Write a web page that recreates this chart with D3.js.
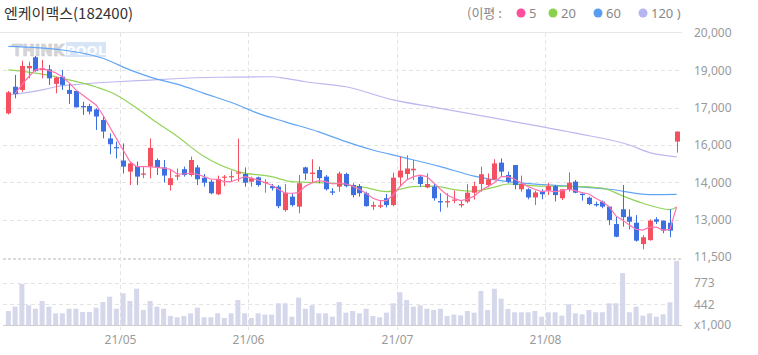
<!DOCTYPE html>
<html><head><meta charset="utf-8">
<script src="https://cdn.jsdelivr.net/npm/d3@7"></script>
<style>body{margin:0;background:#fff;}svg{display:block;}</style>
</head><body>
<script>
const title = "엔케이맥스(182400)";
const dates = ["04/08","04/09","04/12","04/13","04/14","04/15","04/16","04/19","04/20","04/21","04/22","04/23","04/26","04/27","04/28","04/29","04/30",
"05/03","05/04","05/06","05/07","05/10","05/11","05/12","05/13","05/14","05/17","05/18","05/20","05/21","05/24","05/25","05/26","05/27","05/28","05/31",
"06/01","06/02","06/03","06/04","06/07","06/08","06/09","06/10","06/11","06/14","06/15","06/16","06/17","06/18","06/21","06/22","06/23","06/24","06/25","06/28","06/29","06/30",
"07/01","07/02","07/05","07/06","07/07","07/08","07/09","07/12","07/13","07/14","07/15","07/16","07/19","07/20","07/21","07/22","07/23","07/26","07/27","07/28","07/29","07/30",
"08/02","08/03","08/04","08/05","08/06","08/09","08/10","08/11","08/12","08/13","08/17","08/18","08/19","08/20","08/23","08/24","08/25","08/26","08/27","08/30"];
const openP = [16950,17960,17840,18660,19080,18600,18620,18070,18340,17840,17800,17230,17230,17100,16700,16000,15670,15160,14740,14950,14620,14910,15180,14900,14230,
14550,14830,14610,14900,14510,14360,13880,14510,14540,14670,14650,14360,14520,14310,14190,14170,13280,13790,13410,14900,14650,14800,14550,13990,14170,
14650,14230,14190,13920,13410,13410,13730,13470,14520,14650,14790,14550,14140,14170,13620,13570,13640,13460,13600,13940,14270,14230,14450,15080,14610,
14990,14070,14070,13760,13980,14020,14190,13730,14070,14360,13900,13750,13510,13600,13410,12750,13310,13030,12800,11990,12140,12930,12880,12800,15880];
const highP = [17800,18410,18950,18910,19130,18980,18790,18340,18600,18090,17800,17390,17310,17140,16850,16190,15880,15810,15120,15120,14910,16000,15240,15180,14800,
14860,14930,15310,14990,14650,14420,14590,14610,14780,15990,14900,14550,14550,14450,14270,14230,14270,13920,14610,14930,15210,14930,14610,14110,14740,
14700,14300,14270,13980,13600,13640,13890,14700,15310,15360,15180,14610,14670,14270,13920,13920,14020,13660,14270,14360,14930,14670,15210,15240,14740,
14990,14590,14110,14020,14070,14320,14230,14070,14710,14420,13920,13790,13600,13640,13410,13030,14230,13310,13090,12330,12930,13010,12880,13310,16260];
const lowP = [16910,17520,17770,18280,18530,18280,18030,17710,17840,17310,17180,16890,16910,16320,16000,15400,15240,14670,14230,14230,14490,14490,14610,14330,14020,
14420,14550,14550,14230,14170,13880,13850,14190,14360,14360,14170,14170,14170,13940,14020,13350,13220,13410,13160,14420,14300,14300,14020,13850,13980,
14140,13760,13790,13410,13280,13350,13380,13430,14170,14420,14420,14170,14110,13640,13220,13380,13540,13380,13540,13680,13980,14140,14420,14550,14300,
14070,13980,13690,13470,13690,13850,13610,13660,13980,13920,13640,13470,13410,13350,12710,12250,12650,12550,12080,11790,12120,12750,12400,12250,15460];
const closeP = [17750,17690,18750,18750,18560,18660,18280,18310,18030,17690,17180,17180,17020,16830,16260,15780,15640,14930,15050,14550,14670,15640,14900,14590,14490,
14600,14610,15180,14450,14320,13920,14460,14550,14570,14710,14320,14490,14230,14350,14110,13430,13940,13470,14300,14670,14700,14490,14070,13940,14670,
14190,13850,13920,13430,13470,13460,13470,14510,14780,14860,14850,14270,14270,13730,13570,13620,13680,13510,13940,14190,14640,14450,15050,14740,14360,
14230,14270,13760,13950,13880,14190,13850,14070,14320,13940,13850,13510,13460,13410,12900,12270,13010,12840,12120,12250,12880,12840,12500,12500,16260];
const volume = [342,408,758,430,377,496,408,306,306,377,377,327,327,393,480,562,377,614,496,685,357,496,408,377,265,
245,265,306,393,245,245,306,234,306,511,306,234,306,286,286,460,460,254,547,377,430,306,306,254,480,
316,342,306,377,265,245,316,460,630,511,408,430,377,357,377,265,286,276,342,316,650,357,685,531,373,
322,322,322,342,254,322,322,270,445,306,291,357,322,322,460,460,925,322,408,270,306,254,291,476,1114];
const ma5 = [null,17710,18030,18340,18600,18660,18570,18490,18340,18110,17840,17650,17460,17270,16890,16440,16000,15560,15120,14930,14930,14930,14900,14870,14830,
14650,14650,14680,14640,14550,14450,14450,14360,14360,14450,14550,14490,14420,14320,14230,14070,13920,13920,13940,14190,14320,14400,14360,14270,14300,
14270,14190,14070,13920,13730,13640,13640,13850,14170,14420,14550,14610,14550,14320,14070,13850,13730,13640,13690,13810,14020,14170,14320,14550,14550,
14450,14320,14170,14070,13980,14020,13980,14020,14070,14020,13940,13890,13730,13600,13410,13060,12900,12710,12550,12520,12630,12630,12520,12550,13400];
const ma20 = [[0,18600],[5,18440],[9,18220],[13,17950],[16,17650],[19,17150],[22,16600],[25,16080],[29,15310],[34,14740],[39,14550],[42,14360],[46,14320],[50,14250],[53,14130],[56,13980],[60,14170],[63,14190],[66,14060],[69,14000],[72,14150],[74,14270],[79,14190],[84,14180],[88,14110],[91,13820],[94,13540],[98,13300],[99,13400]];
const ma60 = [[0,19490],[8,19355],[14,19040],[18,18600],[22,18250],[25,18060],[29,17710],[34,17270],[37,16950],[41,16630],[46,16250],[50,15880],[54,15560],[58,15310],[64,14930],[69,14570],[74,14360],[84,14170],[89,14070],[95,13870],[99,13880]];
const ma120 = [[0,17650],[5,17840],[7,17960],[11,18065],[16,18150],[21,18215],[24,18255],[31,18320],[39,18340],[41,18280],[44,18150],[50,17960],[57,17460],[64,17140],[75,16630],[84,16200],[92,15750],[95,15460],[99,15300]];
const priceTickLabels = ["20,000","19,000","17,000","16,000","14,000","13,000","11,500"];
const priceMin = 11500, priceMax = 20000;
const volTicks = [773, 442];
const volUnitLabel = "x1,000";
const legendTitle = "(이평 :";
const legendLabels = ["5","20","60","120 )"];

const W = 758, H = 355;
const svg = d3.select("body").append("svg").attr("width", W).attr("height", H);
const FONT = "'Noto Sans', 'Noto Sans CJK KR', sans-serif";
const KFONT = "'Noto Sans CJK KR', 'Noto Sans', sans-serif";

const x = d3.scalePoint().domain(d3.range(dates.length)).range([5, 680]).padding(0.5);
const step = x.step();
const y = d3.scaleLinear().domain([priceMin, priceMax]).range([257, 33]);
const yv = d3.scaleLinear().domain([126, 1142]).range([325, 259]);

// title
svg.append("text").attr("x", 4).attr("y", 19).attr("font-family", KFONT).attr("font-size", 15)
  .attr("fill", "#333").text(title);

// legend
const legColors = ["#ff4f9c", "#8bd14d", "#5a9df0", "#b4b5f1"];
const legX = [521, 553, 598, 643];
svg.append("text").attr("x", 467).attr("y", 18).attr("font-family", KFONT).attr("font-size", 13)
  .attr("fill", "#888").text(legendTitle);
legendLabels.forEach((l, k) => {
  svg.append("circle").attr("cx", legX[k]).attr("cy", 13).attr("r", 4.5).attr("fill", legColors[k]);
  svg.append("text").attr("x", legX[k] + 8).attr("y", 18).attr("font-family", FONT).attr("font-size", 13)
    .attr("fill", "#888").text(l);
});

// top border
svg.append("line").attr("x1", 0).attr("x2", 682).attr("y1", 32.5).attr("y2", 32.5).attr("stroke", "#e6e6e6");

// price gridlines
const gridVals = d3.range(priceTickLabels.length).map(k => priceMax - k * (priceMax - priceMin) / (priceTickLabels.length - 1));
gridVals.forEach((v, k) => {
  if (k > 0 && k < gridVals.length - 1) {
    svg.append("line").attr("x1", 3).attr("x2", 682).attr("y1", Math.round(y(v)) + 0.5).attr("y2", Math.round(y(v)) + 0.5)
      .attr("stroke", "#e4e4e4").attr("stroke-dasharray", "4,3");
  }
  svg.append("text").attr("x", 694).attr("y", y(v)).attr("dy", "0.35em").attr("font-family", FONT)
    .attr("font-size", 12).attr("fill", "#9a9a9a").text(priceTickLabels[k]);
});
// separator
svg.append("line").attr("x1", 3).attr("x2", 682).attr("y1", 259).attr("y2", 259)
  .attr("stroke", "#b8b8b8").attr("stroke-dasharray", "3,2");
// volume gridlines
volTicks.forEach(v => {
  svg.append("line").attr("x1", 3).attr("x2", 682).attr("y1", Math.round(yv(v)) + 0.5).attr("y2", Math.round(yv(v)) + 0.5)
    .attr("stroke", "#e4e4e4").attr("stroke-dasharray", "4,3");
  svg.append("text").attr("x", 694).attr("y", yv(v)).attr("dy", "0.35em").attr("font-family", FONT)
    .attr("font-size", 12).attr("fill", "#9a9a9a").text(d3.format(",")(v));
});
svg.append("text").attr("x", 694).attr("y", 325).attr("dy", "0.35em").attr("font-family", FONT)
  .attr("font-size", 12).attr("fill", "#9a9a9a").text(volUnitLabel);

// month gridlines & labels
dates.forEach((d, i) => {
  if (i > 0 && d.slice(0, 2) !== dates[i - 1].slice(0, 2)) {
    const gx = Math.round(x(i) - step / 2) + 0.5;
    svg.append("line").attr("x1", gx).attr("x2", gx).attr("y1", 33).attr("y2", 330)
      .attr("stroke", "#e4e4e4").attr("stroke-dasharray", "4,3");
    svg.append("text").attr("x", gx).attr("y", 340).attr("dy", "0.35em").attr("text-anchor", "middle")
      .attr("font-family", FONT).attr("font-size", 12).attr("fill", "#9a9a9a").text("21/" + d.slice(0, 2));
  }
});

// watermark
const wm = svg.append("g").attr("opacity", 0.55);
wm.append("text").attr("x", 12).attr("y", 56).attr("font-family", "'DejaVu Sans', sans-serif").attr("font-weight", "bold")
  .attr("font-size", 15).attr("fill", "#b5b5b5").attr("stroke", "#999").attr("stroke-width", 0.5).text("THINK");
wm.append("rect").attr("x", 66).attr("y", 42).attr("width", 40).attr("height", 15).attr("fill", "#b8d0f0");
wm.append("text").attr("x", 86).attr("y", 55).attr("text-anchor", "middle").attr("font-family", "'DejaVu Sans', sans-serif")
  .attr("font-weight", "bold").attr("font-size", 13).attr("fill", "#fff").text("POOL");

// volume bars
const bw = 5;
svg.append("g").selectAll("rect").data(volume).join("rect")
  .attr("x", (d, i) => x(i) - bw / 2).attr("width", bw)
  .attr("y", d => yv(d)).attr("height", d => 325 - yv(d)).attr("fill", "#d4d8ea");
svg.append("line").attr("x1", 3).attr("x2", 682).attr("y1", 325.5).attr("y2", 325.5).attr("stroke", "#cfcfcf");

// MA lines
const lineArr = d3.line().defined(d => d != null).x((d, i) => x(i)).y(d => y(d));
const linePts = d3.line().curve(d3.curveMonotoneX).x(d => x(d[0])).y(d => y(d[1]));
svg.append("path").attr("d", linePts(ma120)).attr("fill", "none").attr("stroke", "#bcb8f0").attr("stroke-width", 1.2);
svg.append("path").attr("d", linePts(ma60)).attr("fill", "none").attr("stroke", "#62a5f5").attr("stroke-width", 1.2);
svg.append("path").attr("d", linePts(ma20)).attr("fill", "none").attr("stroke", "#93d35a").attr("stroke-width", 1.2);

// candles
const up = "#f5505f", down = "#3b6fe2";
const cg = svg.append("g");
dates.forEach((d, i) => {
  const o = openP[i], c = closeP[i];
  const col = c >= o ? up : down;
  const cx = Math.round(x(i)) + 0.5;
  cg.append("line").attr("x1", cx).attr("x2", cx).attr("y1", y(highP[i])).attr("y2", y(lowP[i]))
    .attr("stroke", col).attr("stroke-width", 1);
  const top = y(Math.max(o, c)), bot = y(Math.min(o, c));
  cg.append("rect").attr("x", cx - bw / 2).attr("width", bw).attr("y", top)
    .attr("height", Math.max(1.2, bot - top)).attr("fill", col);
});

svg.append("path").attr("d", lineArr(ma5)).attr("fill", "none").attr("stroke", "#ff72b0").attr("stroke-width", 1.2);
</script>
</body></html>
